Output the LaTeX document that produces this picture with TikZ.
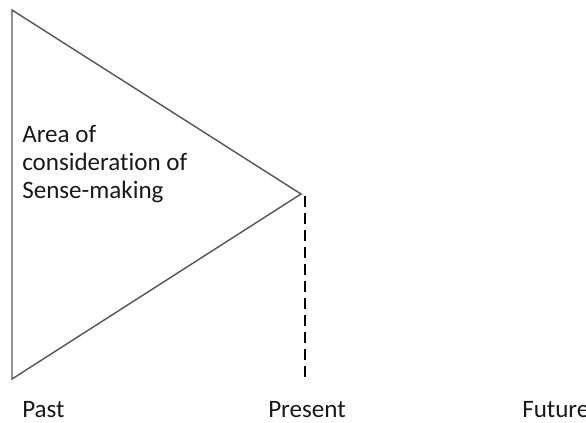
\documentclass[tikz,border=0pt]{standalone}
\usepackage{fontspec}
\setmainfont{Carlito}[Ligatures=NoCommon]
\begin{document}
\begin{tikzpicture}[x=0.75pt,y=-0.75pt,
  edge/.style={draw=black!65,line width=1.1pt,line join=miter},
  nowline/.style={draw=black,line width=1.8pt,dash pattern=on 8.25pt off 4.5pt},
  lbl/.style={font=\fontsize{18.8pt}{21pt}\selectfont,text=black!90,inner sep=0pt,anchor=base west}]
  \useasboundingbox (0,0) rectangle (586,422);
  % cone of sense-making reaching from the past to the present
  \coordinate (tl) at (12,10);
  \coordinate (bl) at (12,379);
  \coordinate (apex) at (301,194);
  \draw[edge] (tl) -- (apex) -- (bl) -- cycle;
  \coordinate (ntop) at (305,196);
  \coordinate (nbot) at (305,381);
  \draw[nowline] (ntop) -- (nbot);
  % caption inside the cone
  \node[lbl] (area1) at (22,142) {Area of};
  \node[lbl] (area2) at (22,170) {consideration of};
  \node[lbl] (area3) at (22,198) {Sense-making};
  % time axis labels
  \node[lbl] (past) at (22,417) {Past};
  \node[lbl] (present) at (268,417) {Present};
  \node[lbl] (future) at (522,417) {Future};
\end{tikzpicture}
\end{document}
